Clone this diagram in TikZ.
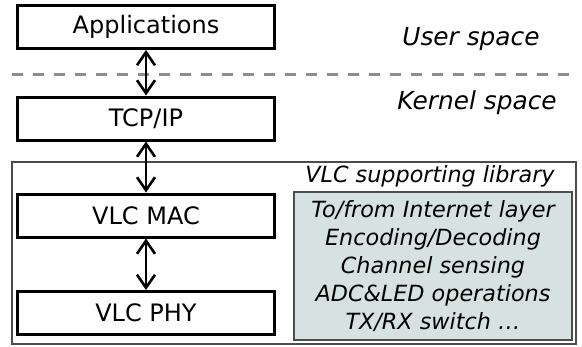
\documentclass[tikz,border=0pt]{standalone}
\usepackage{fontspec}
\setmainfont{DejaVu Sans}
\usetikzlibrary{arrows.meta}
\definecolor{libfill}{HTML}{D6E2E2}
\definecolor{dashgray}{HTML}{8C8C8C}
\tikzset{
  layer/.style={draw=black, line width=3pt, minimum width=257pt, minimum height=43pt, inner sep=0pt, font=\fontsize{24}{28}\selectfont},
  dblarrow/.style={line width=2.6pt, {Straight Barb[length=13pt,width=18pt,line width=2.6pt]}-{Straight Barb[length=13pt,width=18pt,line width=2.6pt]}},
  note/.style={font=\fontsize{22.3}{26}\selectfont\itshape, inner sep=0pt}
}
\begin{document}
\begin{tikzpicture}[x=1pt,y=-1pt]
\useasboundingbox (0,0) rectangle (582,346);
% outer library frame
\node[draw=black!70, line width=1.2pt, minimum width=564pt, minimum height=182pt, inner sep=0pt] (frame) at (294,253) {};
% grey function box
\node[draw=black!70, line width=1.2pt, fill=libfill, minimum width=278pt, minimum height=148pt, inner sep=0pt] (lib) at (433,266) {};
% dashed separator
\coordinate (dl) at (12,74);
\coordinate (dr) at (576,74);
\draw[dashgray, line width=3pt, dash pattern=on 11pt off 10pt] (dl) -- (dr);
% layers
\node[layer] (app) at (146,27) {Applications};
\node[layer] (tcp) at (146,118.5) {TCP/IP};
\node[layer] (mac) at (146,215.5) {VLC MAC};
\node[layer] (phy) at (146,313) {VLC PHY};
% arrows
\draw[dblarrow] (app.south) -- (tcp.north);
\draw[dblarrow] (tcp.south) -- (mac.north);
\draw[dblarrow] (mac.south) -- (phy.north);
% labels
\node[note, font=\fontsize{24.8}{28}\selectfont\itshape] (us) at (471,39) {User space};
\node[note, font=\fontsize{24.8}{28}\selectfont\itshape] (ks) at (477,103) {Kernel space};
\node[note] (libt) at (430,176) {VLC supporting library};
\node[note, align=center, font=\fontsize{22.3}{28}\selectfont\itshape] (libtext) at (lib.center) {To/from Internet layer\\Encoding/Decoding\\Channel sensing\\ADC\&LED operations\\TX/RX switch \dots};
\end{tikzpicture}
\end{document}
